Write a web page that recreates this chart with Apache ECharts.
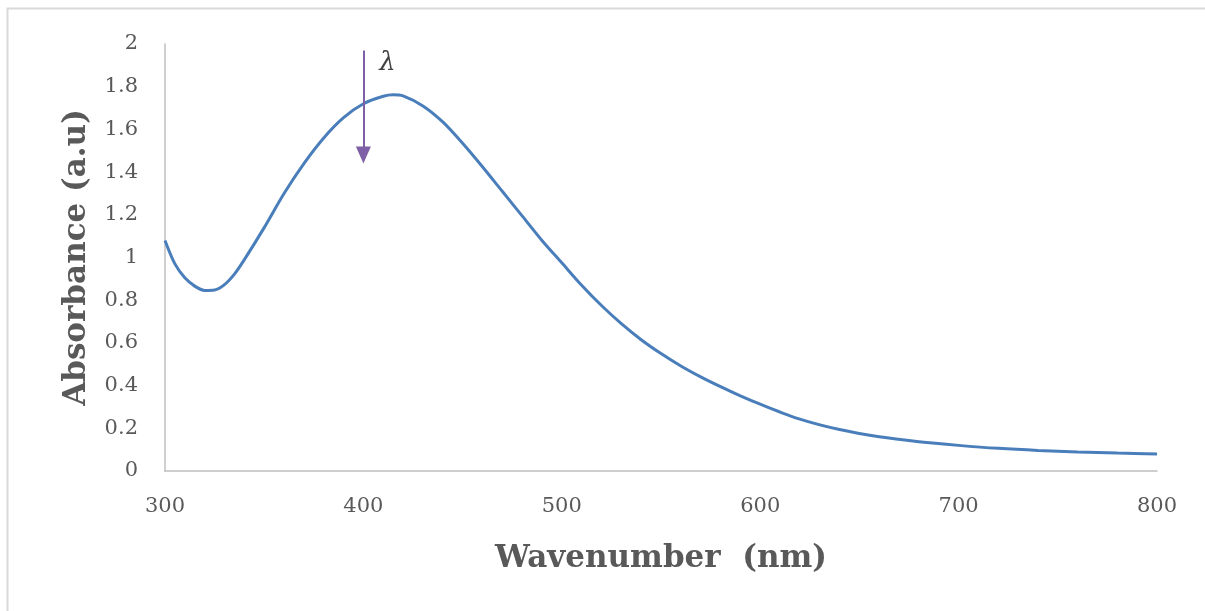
<!DOCTYPE html>
<html>
<head>
<meta charset="utf-8">
<title>Absorbance spectrum</title>
<script src="https://cdn.jsdelivr.net/npm/echarts@6/dist/echarts.min.js"></script>
<style>
  html, body { margin: 0; padding: 0; background: #fff; }
  #chart { width: 1205px; height: 611px; }
</style>
</head>
<body>
<div id="chart"></div>
<script>
// wavelength (nm) and absorbance
var wavelengths = [300, 305, 310, 315, 320, 325, 330, 335, 340, 350, 360, 370, 380, 390, 400, 410, 415, 420, 430, 440, 450, 460, 470, 480, 490, 500, 510, 520, 530, 540, 550, 560, 570, 580, 590, 600, 620, 640, 660, 680, 700, 720, 740, 760, 780, 800];
var absorbance = [1.08, 0.97, 0.905, 0.866, 0.846, 0.848, 0.873, 0.922, 0.99, 1.14, 1.30, 1.44, 1.56, 1.655, 1.72, 1.755, 1.762, 1.757, 1.71, 1.635, 1.535, 1.425, 1.31, 1.195, 1.08, 0.975, 0.87, 0.775, 0.69, 0.615, 0.55, 0.492, 0.441, 0.395, 0.352, 0.313, 0.243, 0.194, 0.16, 0.137, 0.12, 0.106, 0.096, 0.089, 0.084, 0.08];

// arrow annotation (data coords)
var arrowX = 400;
var arrowTop = 1.97;
var arrowTip = 1.48;

var points = [];
for (var i = 0; i < wavelengths.length; i++) {
  points.push([wavelengths[i], absorbance[i]]);
}

var myChart = echarts.init(document.getElementById('chart'));
var labelFont = { color: '#595959', fontFamily: 'DejaVu Serif', fontSize: 21 };
var titleFont = { color: '#595959', fontFamily: 'DejaVu Serif', fontWeight: 'bold', fontSize: 31 };

var option = {
  animation: false,
  backgroundColor: '#fff',
  graphic: [
    {
      type: 'rect',
      shape: { x: 7.5, y: 8.5, width: 1300, height: 700 },
      style: { fill: 'none', stroke: '#d9d9d9', lineWidth: 2 }
    }
  ],
  grid: { left: 165, right: 48, top: 44, bottom: 140 },
  xAxis: {
    type: 'value',
    min: 300,
    max: 800,
    interval: 100,
    name: 'Wavenumber  (nm)',
    nameLocation: 'middle',
    nameGap: 72,
    nameTextStyle: titleFont,
    axisLine: { lineStyle: { color: '#bfbfbf', width: 1.5 } },
    axisTick: { show: false },
    splitLine: { show: false },
    axisLabel: Object.assign({ margin: 25 }, labelFont)
  },
  yAxis: {
    type: 'value',
    min: 0,
    max: 2,
    interval: 0.2,
    name: 'Absorbance (a.u)',
    nameLocation: 'middle',
    nameGap: 73,
    nameTextStyle: titleFont,
    axisLine: { show: true, lineStyle: { color: '#bfbfbf', width: 1.5 } },
    axisTick: { show: false },
    splitLine: { show: false },
    axisLabel: Object.assign({
      margin: 27,
      formatter: function (v) { return String(Math.round(v * 10) / 10); }
    }, labelFont)
  },
  series: [
    {
      type: 'line',
      data: points,
      smooth: 0.3,
      showSymbol: false,
      lineStyle: { color: '#4a7ebb', width: 3 },
      markLine: {
        silent: true,
        symbol: ['none', 'triangle'],
        symbolSize: [15, 17],
        label: {
          show: true,
          position: 'start',
          formatter: 'λ',
          color: '#404040',
          fontFamily: 'DejaVu Serif',
          fontStyle: 'italic',
          fontSize: 26,
          distance: [0, 0],
          offset: [24, 26]
        },
        lineStyle: { color: '#7f5fa5', width: 2, type: 'solid' },
        data: [
          [{ coord: [arrowX, arrowTop] }, { coord: [arrowX, arrowTip] }]
        ]
      }
    }
  ]
};

myChart.setOption(option);
</script>
</body>
</html>
